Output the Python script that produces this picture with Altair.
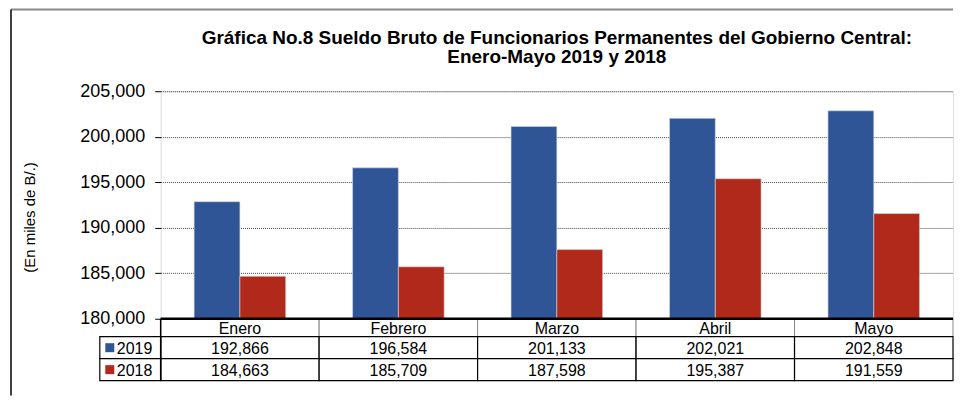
import altair as alt
import pandas as pd

months = ["Enero", "Febrero", "Marzo", "Abril", "Mayo"]
years = ["2019", "2018"]
v2019 = [192866, 196584, 201133, 202021, 202848]
v2018 = [184663, 185709, 187598, 195387, 191559]
colors = ["#2F5597", "#B0291A"]
y_ticks = [180000, 185000, 190000, 195000, 200000, 205000]

rows = []
for m, a, b in zip(months, v2019, v2018):
    rows.append({"month": m, "year": "2019", "value": a, "label": f"{a:,}"})
    rows.append({"month": m, "year": "2018", "value": b, "label": f"{b:,}"})
df = pd.DataFrame(rows)
one = pd.DataFrame({"k": [0]})
mdf = pd.DataFrame({"month": months})

W = 794
H = 228
HEAD = (H, H + 18)
ROW = {"2019": (H + 18, H + 40), "2018": (H + 40, H + 62)}

xenc = alt.X("month:N", sort=months, axis=None,
             scale=alt.Scale(paddingInner=0, paddingOuter=0))
xm = alt.X("month:N", sort=months, axis=None)

bars = alt.Chart(df).mark_bar(stroke="#d8d8d8", strokeWidth=0.6).encode(
    x=xenc,
    xOffset=alt.XOffset("year:N", sort=years,
                        scale=alt.Scale(paddingInner=0, paddingOuter=0.73)),
    y=alt.Y("value:Q",
            scale=alt.Scale(domain=[180000, 205000], zero=False, nice=False),
            axis=alt.Axis(values=y_ticks, labelExpr="format(datum.value, ',')",
                          title="(En miles de B/.)",
                          titleX=-131, titleY=126, titleFontSize=15,
                          titleFontWeight="normal", titleFont="Liberation Sans",
                          titleColor="black", titleBaseline="middle",
                          labelFontSize=18, labelFont="Liberation Sans",
                          labelColor="black", labelPadding=10, tickSize=6,
                          tickColor="black", tickWidth=1,
                          grid=True, gridColor="#444444", gridDash=[1, 1],
                          gridWidth=1, domain=False)),
    y2=alt.datum(180000),
    color=alt.Color("year:N", sort=years,
                    scale=alt.Scale(domain=years, range=colors), legend=None),
)

layers = [bars]

# table header
layers.append(alt.Chart(mdf).mark_rect(fill="white", stroke="#888888", strokeWidth=1).encode(
    x=xm, y=alt.value(HEAD[0]), y2=alt.value(HEAD[1])))
layers.append(alt.Chart(mdf).mark_text(fontSize=16, font="Liberation Sans", color="black").encode(
    x=xm, y=alt.value((HEAD[0] + HEAD[1]) / 2 + 1), text="month:N"))

for yr, col in zip(years, colors):
    y0, y1 = ROW[yr]
    sub = df[df["year"] == yr]
    layers.append(alt.Chart(sub).mark_rect(fill="white", stroke="black", strokeWidth=1.2).encode(
        x=xm, y=alt.value(y0), y2=alt.value(y1)))
    layers.append(alt.Chart(sub).mark_text(fontSize=16, font="Liberation Sans", color="black").encode(
        x=xm, y=alt.value((y0 + y1) / 2 + 1), text="label:N"))
    layers.append(alt.Chart(one).mark_rect(fill="white", stroke="black", strokeWidth=1.2).encode(
        x=alt.value(-61), x2=alt.value(0), y=alt.value(y0), y2=alt.value(y1)))
    layers.append(alt.Chart(one).mark_square(size=81, color=col, opacity=1).encode(
        x=alt.value(-51), y=alt.value((y0 + y1) / 2)))
    layers.append(alt.Chart(one).mark_text(fontSize=16, font="Liberation Sans", color="black",
                                           align="left").encode(
        x=alt.value(-44), y=alt.value((y0 + y1) / 2 + 1), text=alt.value(yr)))

# plot bottom thick line (over table)
layers.append(alt.Chart(one).mark_rule(color="black", strokeWidth=2.5).encode(
    x=alt.value(0), x2=alt.value(W), y=alt.value(H)))
layers.append(alt.Chart(one).mark_rule(color="black", strokeWidth=1.5).encode(
    x=alt.value(0), y=alt.value(H), y2=alt.value(H + 62)))

# outer frame
layers.append(alt.Chart(one).mark_rule(color="#8a8a8a", strokeWidth=2).encode(
    x=alt.value(-150), x2=alt.value(W), y=alt.value(-82)))
layers.append(alt.Chart(one).mark_rule(color="black", strokeWidth=1.5).encode(
    x=alt.value(-150), y=alt.value(-82), y2=alt.value(305)))

chart = alt.layer(*layers).properties(
    width=W, height=H,
    padding={"left": 2, "top": 0, "right": 0, "bottom": 0},
    title=alt.Title(["Gráfica No.8 Sueldo Bruto de Funcionarios Permanentes del Gobierno Central:",
                     "Enero-Mayo 2019 y 2018"],
                    fontSize=19, fontWeight="bold", font="Liberation Sans",
                    color="black", lineHeight=19, frame="group", anchor="middle",
                    offset=-59),
).configure_view(stroke="black", strokeWidth=2.5).configure(background="white")

chart.save("out.html", embed_options={"renderer": "svg", "actions": False})
